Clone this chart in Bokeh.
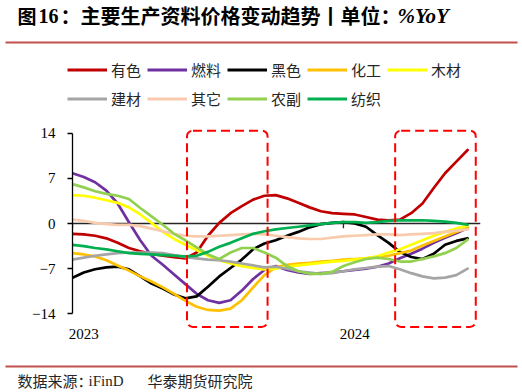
from bokeh.plotting import figure
from bokeh.layouts import column
from bokeh.models import (Range1d, FixedTicker, Span, BoxAnnotation, Label,
                          Legend, LegendItem, ColumnDataSource)
from bokeh.embed import file_html
from bokeh.resources import INLINE

# ---------------- data ----------------
# time index in months since Jan 2023, sampled every half month
months = [0, 0.5, 1, 1.5, 2, 2.5, 3, 3.5, 4, 4.5, 5, 5.5, 6, 6.5, 7, 7.5, 8, 8.5,
          9, 9.5, 10, 10.5, 11, 11.5, 12, 12.5, 13, 13.5, 14, 14.5, 15, 15.5, 16, 16.5, 17, 17.5]

nonferrous = [-1.6, -1.7, -1.9, -2.3, -3.0, -3.8, -4.3, -4.7, -5.0, -5.2, -5.4, -4.5, -1.9, 0.1, 1.6, 2.7, 3.7, 4.3,
              4.4, 3.9, 3.2, 2.5, 1.9, 1.6, 1.5, 1.4, 1.0, 0.6, 0.5, 0.6, 1.6, 3.1, 5.5, 7.8, 9.6, 11.4]
fuel = [7.8, 7.2, 6.4, 5.1, 3.1, 0.2, -2.6, -5.0, -6.4, -7.9, -9.4, -10.9, -11.9, -12.3, -11.9, -10.4, -8.6, -7.2,
        -6.6, -7.2, -7.6, -7.8, -7.7, -7.6, -7.4, -7.2, -7.0, -6.7, -6.2, -5.4, -4.7, -3.9, -3.0, -2.2, -1.5, -0.7]
ferrous = [-8.4, -7.6, -7.1, -6.8, -6.7, -7.1, -8.2, -9.3, -10.1, -11.0, -11.6, -11.3, -9.8, -8.2, -6.9, -5.6, -4.0, -3.1,
           -2.6, -1.9, -1.3, -0.6, -0.1, 0.1, 0.2, 0.0, -0.5, -1.8, -3.0, -4.4, -5.2, -5.5, -4.7, -3.3, -2.7, -2.3]
chemical = [-4.6, -4.8, -5.1, -5.7, -6.5, -7.3, -8.2, -9.0, -9.9, -10.9, -12.0, -12.9, -13.4, -13.5, -13.2, -11.9, -9.9, -8.0,
            -6.8, -6.4, -6.2, -6.1, -5.9, -5.8, -5.6, -5.5, -5.4, -5.2, -5.0, -4.6, -4.2, -3.4, -2.7, -2.0, -1.3, -0.7]
timber = [4.4, 4.3, 4.0, 3.6, 3.2, 2.5, 1.4, 0.1, -1.3, -2.4, -3.3, -4.1, -5.0, -5.7, -6.2, -6.6, -6.9, -7.1,
          -7.0, -6.7, -6.5, -6.3, -6.1, -5.9, -5.8, -5.6, -5.4, -5.1, -4.5, -4.0, -3.3, -2.6, -1.9, -1.3, -0.8, -0.3]
building = [-5.6, -5.3, -5.0, -4.8, -4.6, -4.5, -4.5, -4.5, -4.6, -4.9, -5.2, -5.4, -5.6, -5.7, -5.9, -6.2, -6.5, -6.8,
            -6.7, -7.0, -7.4, -7.6, -7.8, -7.7, -7.4, -7.1, -6.9, -6.7, -6.6, -7.1, -7.7, -8.2, -8.5, -8.4, -8.0, -7.0]
others = [0.6, 0.4, 0.1, -0.1, -0.2, -0.2, -0.4, -0.8, -1.2, -1.6, -1.9, -2.0, -2.0, -1.9, -1.8, -1.7, -1.6, -1.7,
          -1.9, -2.1, -2.3, -2.4, -2.4, -2.2, -2.0, -1.9, -1.8, -1.7, -1.7, -1.8, -1.7, -1.6, -1.5, -1.3, -1.1, -0.9]
agri = [6.1, 5.6, 5.0, 4.6, 4.3, 3.8, 2.4, 1.1, -0.2, -1.6, -2.6, -3.7, -4.8, -5.5, -4.5, -3.8, -3.8, -4.5,
        -5.3, -6.6, -7.4, -7.8, -7.8, -7.5, -6.6, -6.0, -5.5, -5.3, -5.5, -5.9, -5.9, -5.5, -5.1, -4.6, -3.8, -2.5]
textile = [-3.3, -3.5, -3.8, -4.0, -4.3, -4.6, -4.7, -4.8, -4.9, -5.0, -5.1, -5.0, -4.4, -3.6, -3.0, -2.3, -1.6, -1.2,
           -0.9, -0.7, -0.5, -0.3, -0.1, 0.1, 0.2, 0.2, 0.1, 0.2, 0.4, 0.5, 0.5, 0.5, 0.4, 0.3, 0.1, -0.2]

series_names = ["有色", "燃料", "黑色", "化工", "木材", "建材", "其它", "农副", "纺织"]
series_values = [nonferrous, fuel, ferrous, chemical, timber, building, others, agri, textile]
series_colors = ["#C00000", "#7030A0", "#000000", "#FFC000", "#FFFF00",
                 "#A5A5A5", "#F8CBAD", "#92D050", "#00B050"]

y_ticks = [-14, -7, 0, 7, 14]
year_starts = [0, 12]          # month index of Jan 2023 / Jan 2024
year_labels = ["2023", "2024"]

# highlighted windows (month index) and their vertical span
hl_left = [5.07, 14.29]
hl_right = [8.64, 17.86]
hl_top, hl_bottom = 14.4, -16.05

title_parts = ["图", "16", "：主要生产资料价格变动趋势丨单位：", "%YoY"]
source_parts = ["数据来源：", "iFinD", "华泰期货研究院"]

W = 522
HEAD_H, MAIN_H, FOOT_H = 112, 240, 40
RULE = "#C0504D"


def blank_fig(h):
    f = figure(width=W, height=h, output_backend="svg", toolbar_location=None,
               x_range=Range1d(0, W), y_range=Range1d(h, 0),
               x_axis_type=None, y_axis_type=None, min_border=0,
               frame_align=False)
    f.outline_line_color = None
    f.background_fill_color = "white"
    f.border_fill_color = "white"
    return f


# ---------------- header: title, rule, legend ----------------
head = blank_fig(HEAD_H)
for txt, x, font, style, size in zip(title_parts, [17, 38, 60, 397],
                                     ["Noto Sans CJK SC", "Liberation Serif", "Noto Sans CJK SC", "Liberation Serif"],
                                     ["bold", "bold", "bold", "bold italic"],
                                     ["19px", "20px", "20px", "21px"]):
    head.add_layout(Label(x=x, y=15, text=txt, text_font=font, text_font_style=style,
                          text_font_size=size, text_color="#000000",
                          text_baseline="middle", text_align="left"))
head.add_layout(BoxAnnotation(left=5, right=517, top=41, bottom=43,
                              fill_color=RULE, fill_alpha=1, line_color=None))

# legend swatches: renderers that only carry the series styles (placed off the canvas)
items = []
for name, col in zip(series_names, series_colors):
    r = head.line(x=[-50, -40], y=[-50, -50], line_color=col, line_width=3)
    items.append(LegendItem(label=name, renderers=[r]))
legend = Legend(items=items, location=(67, HEAD_H - 110.5),
                orientation="horizontal", ncols=5,
                glyph_width=40, glyph_height=25, label_height=25, label_width=32,
                label_standoff=4, spacing=4, padding=0, margin=0,
                border_line_color=None, background_fill_alpha=0,
                label_text_font="Noto Sans CJK SC", label_text_font_size="15px",
                label_text_color="#262626")
head.add_layout(legend)

# ---------------- main chart ----------------
LEFT, TOP, RIGHT = 72, 14, 42
FRAME_H = 202
p = figure(width=W, height=MAIN_H, output_backend="svg", toolbar_location=None,
           x_range=Range1d(0, 18.07), y_range=Range1d(-16.28, 15.04),
           min_border_left=LEFT, min_border_top=TOP, min_border_right=RIGHT,
           min_border_bottom=MAIN_H - TOP - FRAME_H, frame_align=False)
p.outline_line_color = None
p.xgrid.visible = False
p.ygrid.visible = False
p.background_fill_color = "white"
p.border_fill_color = "white"

p.yaxis.ticker = FixedTicker(ticks=y_ticks)
p.yaxis.bounds = (min(y_ticks), max(y_ticks))
p.yaxis.axis_line_color = "#000000"
p.yaxis.axis_line_width = 1.3
p.yaxis.major_tick_line_color = "#000000"
p.yaxis.major_tick_line_width = 1.3
p.yaxis.major_tick_out = 5
p.yaxis.major_tick_in = 0
p.yaxis.minor_tick_line_color = None
p.yaxis.major_label_standoff = 12
p.yaxis.major_label_text_font = "Liberation Serif"
p.yaxis.major_label_text_font_size = "15px"
p.yaxis.major_label_text_color = "#000000"

label_pos = [s + 0.5 for s in year_starts]
p.xaxis.ticker = FixedTicker(ticks=label_pos)
p.xaxis.major_label_overrides = {pos: lab for pos, lab in zip(label_pos, year_labels)}
p.xaxis.axis_line_color = None
p.xaxis.major_tick_line_color = None
p.xaxis.minor_tick_line_color = None
p.xaxis.major_tick_out = 0
p.xaxis.major_tick_in = 0
p.xaxis.major_label_standoff = 0
p.xaxis.major_label_text_font = "Liberation Serif"
p.xaxis.major_label_text_font_size = "15px"
p.xaxis.major_label_text_color = "#000000"

p.add_layout(Span(location=0, dimension="width", line_color="#262626",
                  line_width=1.5, level="underlay"))
p.segment(x0=year_starts, y0=[0, 0], x1=year_starts, y1=[-0.75, -0.75],
          line_color="#262626", line_width=1.3)

for name, vals, col in zip(series_names, series_values, series_colors):
    src = ColumnDataSource(dict(x=months, y=vals))
    p.line("x", "y", source=src, line_color=col, line_width=2.7,
           line_join="round", line_cap="round")

for l, r in zip(hl_left, hl_right):
    p.add_layout(BoxAnnotation(left=l, right=r, top=hl_top, bottom=hl_bottom,
                               fill_alpha=0, fill_color=None,
                               line_color="#FF0000", line_alpha=1, line_width=2,
                               line_dash="9 5", border_radius=6))

# ---------------- footer: rule and source ----------------
foot = blank_fig(FOOT_H)
foot.add_layout(BoxAnnotation(left=5, right=517, top=13, bottom=15,
                              fill_color=RULE, fill_alpha=1, line_color=None))
for txt, x, font in zip(source_parts, [17, 88, 147],
                        ["Noto Sans CJK SC", "Liberation Serif", "Noto Sans CJK SC"]):
    foot.add_layout(Label(x=x, y=28, text=txt, text_font=font, text_font_size="15px",
                          text_color="#262626", text_baseline="middle", text_align="left"))

layout = column(head, p, foot, spacing=0)
open("out.html", "w").write(file_html(layout, INLINE))
